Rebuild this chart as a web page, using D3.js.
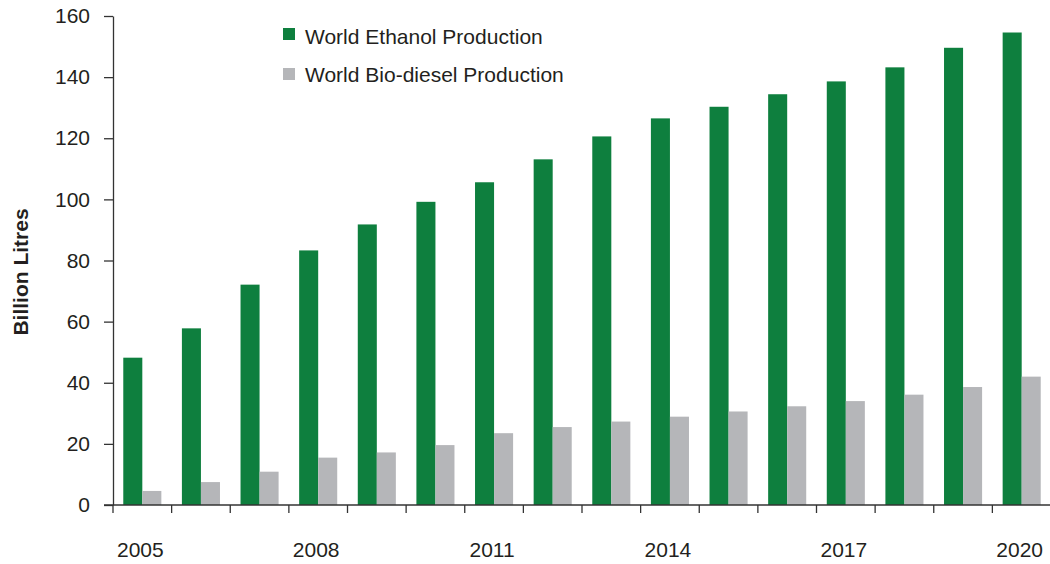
<!DOCTYPE html>
<html>
<head>
<meta charset="utf-8">
<script src="https://cdn.jsdelivr.net/npm/d3@7"></script>
<style>
  html, body { margin: 0; padding: 0; background: #fff; }
  svg { display: block; font-family: "Liberation Sans", Arial, sans-serif; }
</style>
</head>
<body>
<svg id="chart" width="1050" height="564"></svg>
<script>
const years = ["2005","2006","2007","2008","2009","2010","2011","2012","2013","2014","2015","2016","2017","2018","2019","2020"];
const ethanol = [48.2, 57.8, 72.1, 83.3, 91.8, 99.2, 105.6, 113.1, 120.6, 126.5, 130.3, 134.4, 138.6, 143.2, 149.6, 154.6];
const biodiesel = [4.6, 7.5, 10.9, 15.5, 17.2, 19.6, 23.5, 25.5, 27.3, 28.9, 30.6, 32.3, 34.0, 36.1, 38.6, 42.0];
const seriesNames = ["World Ethanol Production", "World Bio-diesel Production"];
const seriesColors = ["#0e7f3e", "#b5b6b9"];
const yTicks = [0, 20, 40, 60, 80, 100, 120, 140, 160];
const xLabelYears = ["2005", "2008", "2011", "2014", "2017", "2020"];
const yTitle = "Billion Litres";

const svg = d3.select("#chart");
const textColor = "#231f20";
const axisColor = "#333";

const x0 = d3.scaleBand().domain(years).range([113, 1051]).paddingInner(0).paddingOuter(0);
const x1 = d3.scaleBand().domain([0, 1]).range([0, x0.bandwidth()]).paddingInner(0).paddingOuter(0.54);
const y = d3.scaleLinear().domain([0, 160]).range([505, 16]);

const seriesData = [ethanol, biodiesel];

// bars
seriesData.forEach((vals, si) => {
  svg.append("g").selectAll("rect").data(years).join("rect")
    .attr("x", d => x0(d) + x1(si))
    .attr("width", x1.bandwidth())
    .attr("y", (d, i) => y(vals[i]))
    .attr("height", (d, i) => y(0) - y(vals[i]))
    .attr("fill", seriesColors[si]);
});

// y axis
const yAxis = svg.append("g").attr("transform", "translate(113,0)")
  .call(d3.axisLeft(y).tickValues(yTicks).tickSize(9).tickPadding(14).tickSizeOuter(0));
yAxis.select(".domain").attr("stroke", axisColor).attr("stroke-width", 1.3);
yAxis.selectAll(".tick line").attr("stroke", axisColor).attr("stroke-width", 1.3);
yAxis.selectAll(".tick text").attr("font-size", "21px").attr("fill", textColor)
  .attr("font-family", "Liberation Sans, Arial, sans-serif");

// x axis
const xAxisG = svg.append("g").attr("transform", "translate(0,505)");
xAxisG.append("line").attr("x1", 104).attr("x2", 1050).attr("y1", 0).attr("y2", 0)
  .attr("stroke", axisColor).attr("stroke-width", 1.3);
xAxisG.selectAll("line.tk").data(years).join("line").attr("class", "tk")
  .attr("x1", d => x0(d)).attr("x2", d => x0(d))
  .attr("y1", 0).attr("y2", 8)
  .attr("stroke", axisColor).attr("stroke-width", 1.3);
xAxisG.selectAll("text").data(xLabelYears).join("text")
  .attr("x", d => x0(d) + x0.bandwidth() / 2 - 2)
  .attr("y", 52)
  .attr("text-anchor", "middle")
  .attr("font-size", "21px").attr("fill", textColor)
  .text(d => d);

// y title
svg.append("text")
  .attr("transform", "translate(28,272) rotate(-90)")
  .attr("text-anchor", "middle")
  .attr("font-size", "21px").attr("font-weight", "bold").attr("fill", textColor)
  .text(yTitle);

// legend
const legend = svg.append("g");
seriesNames.forEach((name, i) => {
  const yy = 28 + i * 40;
  legend.append("rect").attr("x", 283).attr("y", yy).attr("width", 12).attr("height", 12)
    .attr("fill", seriesColors[i]);
  legend.append("text").attr("x", 305).attr("y", 44 + i * 37.5)
    .attr("font-size", "21px").attr("fill", textColor).text(name);
});
</script>
</body>
</html>
